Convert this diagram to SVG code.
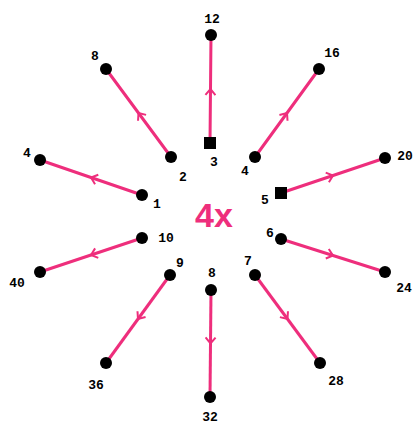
<svg xmlns="http://www.w3.org/2000/svg" width="417" height="425" viewBox="0 0 417 425">
<style>
.c{fill:none;stroke:#ee2e7c;stroke-width:3;marker-mid:url(#a)}
.d{fill:#000}
.t{font-family:"Liberation Mono",monospace;font-size:13px;font-weight:bold;fill:#000;text-anchor:middle}
.m{font-family:"Liberation Sans",sans-serif;font-size:34px;font-weight:bold;fill:#ee2e7c;text-anchor:middle}
</style>
<defs>
<marker id="a" viewBox="-8 -6 10 12" markerWidth="10" markerHeight="12" markerUnits="userSpaceOnUse" orient="auto">
<path d="M-6,-5 L0,0 L-6,5" fill="none" stroke="#ee2e7c" stroke-width="2"/>
</marker>
</defs>
<rect width="417" height="425" fill="#fff"/>
<g id="connectors">
<polyline class="c" points="142,195 91,177.5 40,160"/>
<polyline class="c" points="171,157 138.5,113 106,69"/>
<polyline class="c" points="210,143 210.5,89 211,35"/>
<polyline class="c" points="255,157 287,113 319,69"/>
<polyline class="c" points="281,193 333,175.5 385,158"/>
<polyline class="c" points="281,239 333,255.5 385,272"/>
<polyline class="c" points="255,275 287.5,319 320,363"/>
<polyline class="c" points="211,290 210.5,343.5 210,397"/>
<polyline class="c" points="170,275 138,319 106,363"/>
<polyline class="c" points="142,238 91,255 40,272"/>
</g>
<g id="n1"><circle class="d" cx="142" cy="195" r="6"/><text class="t" x="157" y="208">1</text></g>
<g id="n2"><circle class="d" cx="171" cy="157" r="6"/><text class="t" x="183" y="181">2</text></g>
<g id="n3"><rect class="d" x="204" y="137" width="12" height="12"/><text class="t" x="214" y="166">3</text></g>
<g id="n4"><circle class="d" cx="255" cy="157" r="6"/><text class="t" x="245" y="175">4</text></g>
<g id="n5"><rect class="d" x="275" y="187" width="12" height="12"/><text class="t" x="265" y="204">5</text></g>
<g id="n6"><circle class="d" cx="281" cy="239" r="6"/><text class="t" x="270" y="237">6</text></g>
<g id="n7"><circle class="d" cx="255" cy="275" r="6"/><text class="t" x="248" y="265">7</text></g>
<g id="n8"><circle class="d" cx="211" cy="290" r="6"/><text class="t" x="212" y="277">8</text></g>
<g id="n9"><circle class="d" cx="170" cy="275" r="6"/><text class="t" x="180" y="267">9</text></g>
<g id="n10"><circle class="d" cx="142" cy="238" r="6"/><text class="t" x="166" y="242">10</text></g>
<g id="o4"><circle class="d" cx="40" cy="160" r="6"/><text class="t" x="27" y="157">4</text></g>
<g id="o8"><circle class="d" cx="106" cy="69" r="6"/><text class="t" x="95" y="60">8</text></g>
<g id="o12"><circle class="d" cx="211" cy="35" r="6"/><text class="t" x="212" y="23">12</text></g>
<g id="o16"><circle class="d" cx="319" cy="69" r="6"/><text class="t" x="332" y="57">16</text></g>
<g id="o20"><circle class="d" cx="385" cy="158" r="6"/><text class="t" x="405" y="160">20</text></g>
<g id="o24"><circle class="d" cx="385" cy="272" r="6"/><text class="t" x="404" y="292">24</text></g>
<g id="o28"><circle class="d" cx="320" cy="363" r="6"/><text class="t" x="336" y="385">28</text></g>
<g id="o32"><circle class="d" cx="210" cy="397" r="6"/><text class="t" x="210" y="421">32</text></g>
<g id="o36"><circle class="d" cx="106" cy="363" r="6"/><text class="t" x="96" y="389">36</text></g>
<g id="o40"><circle class="d" cx="40" cy="272" r="6"/><text class="t" x="17" y="287">40</text></g>
<g id="center"><text class="m" x="214" y="227">4x</text></g>
</svg>
